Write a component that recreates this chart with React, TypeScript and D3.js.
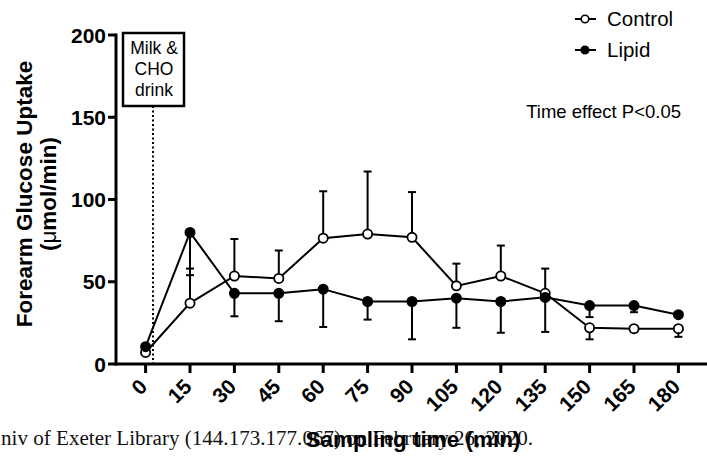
import React, { useEffect, useRef } from "react";
import * as d3 from "d3";

// sampling times (min)
const times = [0, 15, 30, 45, 60, 75, 90, 105, 120, 135, 150, 165, 180];

// forearm glucose uptake (umol/min)
const controlMean = [7, 37, 53.5, 52, 76.5, 79, 77, 47.5, 53.5, 43, 22, 21.5, 21.5];
const controlUp = [0, 21, 22.5, 17, 28.5, 38, 27.5, 13.5, 18.5, 15, 0, 0, 0];
const controlDown = [0, 0, 0, 0, 0, 0, 0, 0, 0, 0, 7, 2, 5];

const lipidMean = [10.5, 80, 43, 43, 45.5, 38, 38, 40, 38, 40.5, 35.5, 35.5, 30];
const lipidUp = [0, 0, 0, 0, 0, 0, 0, 0, 0, 0, 0, 0, 0];
const lipidDown = [0, 26, 14, 17, 23, 11, 23, 18, 19, 21, 7, 4, 0];

const yTicks = [0, 50, 100, 150, 200];
const drinkTime = 2.5;
const drinkLines = ["Milk &", "CHO", "drink"];

const FONT = "Liberation Sans, Arial, Helvetica, sans-serif";

const App = () => {
  const ref = useRef(null);

  useEffect(() => {
    const width = 707;
    const height = 464;
    const x = d3.scaleLinear().domain([-10, 190]).range([116, 708]);
    const y = d3.scaleLinear().domain([0, 200]).range([364, 35]);

    const svg = d3
      .select(ref.current)
      .append("svg")
      .attr("width", width)
      .attr("height", height)
      .style("position", "absolute")
      .style("left", 0)
      .style("top", 0)
      .style("font-family", FONT);

    svg.append("rect").attr("width", width).attr("height", height).attr("fill", "#fff");

    // watermark from the source pdf (cut at the left edge), sits behind the x title
    svg
      .append("text")
      .attr("x", 1)
      .attr("y", 445)
      .attr("textLength", 532)
      .attr("lengthAdjust", "spacingAndGlyphs")
      .style("font-family", "Liberation Serif, Times New Roman, serif")
      .style("font-size", "20px")
      .attr("fill", "#111")
      .text("niv of Exeter Library (144.173.177.067) on February 26, 2020.");

    // axes
    const yAxis = svg.append("g").attr("transform", `translate(${x(-10)},0)`);
    yAxis
      .append("line")
      .attr("y1", y(0) + 1.5)
      .attr("y2", y(200) - 1.5)
      .attr("stroke", "#000")
      .attr("stroke-width", 3);
    yAxis
      .selectAll("g.tick")
      .data(yTicks)
      .join("g")
      .attr("class", "tick")
      .attr("transform", (d) => `translate(0,${y(d)})`)
      .call((g) => g.append("line").attr("x1", -8).attr("stroke", "#000").attr("stroke-width", 3))
      .call((g) =>
        g
          .append("text")
          .attr("x", -10)
          .attr("dy", "0.36em")
          .attr("text-anchor", "end")
          .style("font-size", "21px")
          .style("font-weight", "bold")
          .text((d) => d),
      );

    const xAxis = svg.append("g").attr("transform", `translate(0,${y(0)})`);
    xAxis
      .append("line")
      .attr("x1", x(-10) - 1.5)
      .attr("x2", 708)
      .attr("stroke", "#000")
      .attr("stroke-width", 3);
    xAxis
      .selectAll("g.tick")
      .data(times)
      .join("g")
      .attr("class", "tick")
      .attr("transform", (d) => `translate(${x(d)},0)`)
      .call((g) => g.append("line").attr("y2", 9).attr("stroke", "#000").attr("stroke-width", 3))
      .call((g) =>
        g
          .append("text")
          .attr("transform", "translate(3,24) rotate(-45)")
          .attr("text-anchor", "end")
          .style("font-size", "21px")
          .style("font-weight", "bold")
          .text((d) => d),
      );

    // axis titles
    const yTitle = svg
      .append("text")
      .attr("transform", `translate(32,194) rotate(-90)`)
      .attr("text-anchor", "middle")
      .style("font-size", "22.5px")
      .style("font-weight", "bold");
    yTitle.append("tspan").attr("x", 0).attr("y", 0).text("Forearm Glucose Uptake");
    const unit = yTitle.append("tspan").attr("x", 0).attr("y", 24);
    unit.append("tspan").text("(");
    unit.append("tspan").style("font-weight", "normal").text("\u03bc");
    unit.append("tspan").text("mol/min)");

    svg
      .append("text")
      .attr("x", 413)
      .attr("y", 447)
      .attr("text-anchor", "middle")
      .style("font-size", "22.5px")
      .style("font-weight", "bold")
      .text("Sampling time (min)");

    // drink marker
    svg
      .append("line")
      .attr("x1", x(drinkTime))
      .attr("x2", x(drinkTime))
      .attr("y1", 106)
      .attr("y2", y(0))
      .attr("stroke", "#000")
      .attr("stroke-width", 2)
      .attr("stroke-dasharray", "2,2.5");
    svg
      .append("rect")
      .attr("x", 123)
      .attr("y", 33)
      .attr("width", 61)
      .attr("height", 73)
      .attr("fill", "#fff")
      .attr("stroke", "#000")
      .attr("stroke-width", 2.5);
    svg
      .append("g")
      .selectAll("text")
      .data(drinkLines)
      .join("text")
      .attr("x", 154)
      .attr("y", (d, i) => 54 + i * 21)
      .attr("text-anchor", "middle")
      .style("font-size", "17.5px")
      .text((d) => d);

    const series = [
      { name: "Control", mean: controlMean, up: controlUp, down: controlDown, fill: "#fff" },
      { name: "Lipid", mean: lipidMean, up: lipidUp, down: lipidDown, fill: "#000" },
    ];

    const line = d3
      .line<number>()
      .x((d, i) => x(times[i]))
      .y((d) => y(d));

    const plot = svg.append("g");
    series.forEach((s) => {
      plot
        .append("path")
        .attr("d", line(s.mean))
        .attr("fill", "none")
        .attr("stroke", "#000")
        .attr("stroke-width", 2);

      const bars = s.mean
        .map((m, i) => ({ t: times[i], m, hi: m + s.up[i], lo: m - s.down[i], up: s.up[i], down: s.down[i] }))
        .filter((d) => d.up > 0 || d.down > 0);
      const eb = plot.append("g").attr("stroke", "#000").attr("stroke-width", 2);
      eb.selectAll("line.v")
        .data(bars)
        .join("line")
        .attr("class", "v")
        .attr("x1", (d) => x(d.t))
        .attr("x2", (d) => x(d.t))
        .attr("y1", (d) => y(d.hi))
        .attr("y2", (d) => y(d.lo));
      eb.selectAll("line.cap")
        .data(bars.flatMap((d) => [d.up > 0 ? { t: d.t, v: d.hi } : null, d.down > 0 ? { t: d.t, v: d.lo } : null]).filter(Boolean))
        .join("line")
        .attr("class", "cap")
        .attr("x1", (d) => x(d.t) - 4)
        .attr("x2", (d) => x(d.t) + 4)
        .attr("y1", (d) => y(d.v))
        .attr("y2", (d) => y(d.v));
    });

    series.forEach((s) => {
      plot
        .append("g")
        .selectAll("circle")
        .data(s.mean)
        .join("circle")
        .attr("cx", (d, i) => x(times[i]))
        .attr("cy", (d) => y(d))
        .attr("r", 4.6)
        .attr("fill", s.fill)
        .attr("stroke", "#000")
        .attr("stroke-width", 1.8);
    });

    // legend
    const legend = svg
      .append("g")
      .selectAll("g")
      .data(series)
      .join("g")
      .attr("transform", (d, i) => `translate(575,${19 + i * 31})`);
    legend.append("line").attr("x2", 21).attr("stroke", "#000").attr("stroke-width", 2);
    legend
      .append("circle")
      .attr("cx", 10)
      .attr("r", 3.8)
      .attr("fill", (d) => d.fill)
      .attr("stroke", "#000")
      .attr("stroke-width", 1.6);
    legend
      .append("text")
      .attr("x", 32)
      .attr("dy", "0.36em")
      .style("font-size", "20.5px")
      .text((d) => d.name);

    svg
      .append("text")
      .attr("x", 681)
      .attr("y", 118)
      .attr("text-anchor", "end")
      .style("font-size", "18.5px")
      .text("Time effect P<0.05");

    return () => {
      d3.select(ref.current).selectAll("*").remove();
    };
  }, []);

  return <div ref={ref} />;
};

export default App;
